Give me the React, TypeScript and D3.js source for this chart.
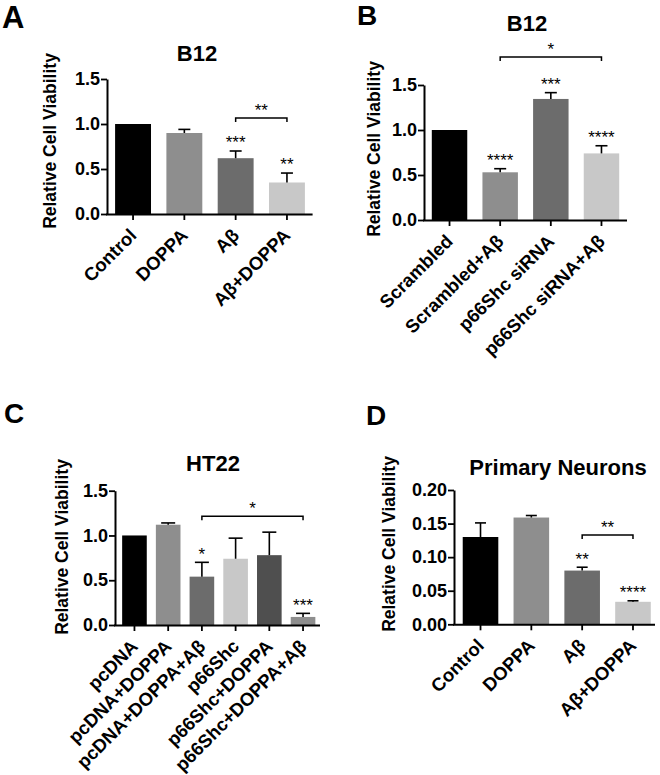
import React, { useEffect, useRef } from 'react';
import * as d3 from 'd3';

const FONT = '"Liberation Sans", Arial, Helvetica, sans-serif';

// panel A - B12
const aCategories = ['Control', 'DOPPA', 'Aβ', 'Aβ+DOPPA'];
const aMeans = [1.0, 0.9, 0.62, 0.35];
const aErrors = [0, 0.04, 0.08, 0.105];
const aStars = ['', '', '***', '**'];
const aTicks = [0, 0.5, 1.0, 1.5];
const aBracket = { from: 2, to: 3, value: 1.067, label: '**' };

// panel B - B12 siRNA
const bCategories = ['Scrambled', 'Scrambled+Aβ', 'p66Shc siRNA', 'p66Shc siRNA+Aβ'];
const bMeans = [1.0, 0.53, 1.345, 0.74];
const bErrors = [0, 0.04, 0.07, 0.085];
const bStars = ['', '****', '***', '****'];
const bTicks = [0, 0.5, 1.0, 1.5];
const bBracket = { from: 1, to: 3, value: 1.81, label: '*' };

// panel C - HT22
const cCategories = ['pcDNA', 'pcDNA+DOPPA', 'pcDNA+DOPPA+Aβ', 'p66Shc', 'p66Shc+DOPPA', 'p66Shc+DOPPA+Aβ'];
const cMeans = [1.0, 1.12, 0.54, 0.74, 0.78, 0.09];
const cErrors = [0, 0.02, 0.16, 0.23, 0.257, 0.04];
const cStars = ['', '', '*', '', '', '***'];
const cTicks = [0, 0.5, 1.0, 1.5];
const cBracket = { from: 2, to: 5, value: 1.214, label: '*' };

// panel D - primary neurons
const dCategories = ['Control', 'DOPPA', 'Aβ', 'Aβ+DOPPA'];
const dMeans = [0.13, 0.159, 0.08, 0.0335];
const dErrors = [0.021, 0.003, 0.005, 0.0015];
const dStars = ['', '', '**', '****'];
const dTicks = [0, 0.05, 0.1, 0.15, 0.2];
const dBracket = { from: 2, to: 3, value: 0.133, label: '**' };

const grays4 = ['#000000', '#8e8e8e', '#6c6c6c', '#c8c8c8'];
const grays6 = ['#000000', '#8e8e8e', '#6c6c6c', '#c8c8c8', '#4f4f4f', '#8e8e8e'];

const panels = [
  {
    letter: 'A', letterX: 2, letterY: 28, letterSize: 31,
    title: 'B12', titleX: 197, titleY: 61,
    categories: aCategories, means: aMeans, errors: aErrors, stars: aStars, ticks: aTicks, bracket: aBracket,
    fmt: '.1f', yMax: 1.5, left: 107, bandStart: 107.4, bandEnd: 312.6, axisEnd: 312.6,
    y0: 214, yTop: 79, padding: 0.3, colors: grays4, labelX: 56, labelY: 141, capW: 12,
  },
  {
    letter: 'B', letterX: 357, letterY: 25, letterSize: 28,
    title: 'B12', titleX: 527, titleY: 31,
    categories: bCategories, means: bMeans, errors: bErrors, stars: bStars, ticks: bTicks, bracket: bBracket,
    fmt: '.1f', yMax: 1.5, left: 424, bandStart: 424.2, bandEnd: 626.8, axisEnd: 627,
    y0: 220, yTop: 85, padding: 0.3, colors: grays4, labelX: 380, labelY: 149, capW: 12,
  },
  {
    letter: 'C', letterX: 4, letterY: 423, letterSize: 28,
    title: 'HT22', titleX: 213, titleY: 471,
    categories: cCategories, means: cMeans, errors: cErrors, stars: cStars, ticks: cTicks, bracket: cBracket,
    fmt: '.1f', yMax: 1.5, left: 115, bandStart: 117.6, bandEnd: 319.9, axisEnd: 320,
    y0: 625, yTop: 490.7, padding: 0.27, colors: grays6, labelX: 68, labelY: 547, capW: 14,
  },
  {
    letter: 'D', letterX: 366, letterY: 425, letterSize: 28,
    title: 'Primary Neurons', titleX: 558, titleY: 475,
    categories: dCategories, means: dMeans, errors: dErrors, stars: dStars, ticks: dTicks, bracket: dBracket,
    fmt: '.2f', yMax: 0.2, left: 454, bandStart: 455.1, bandEnd: 658.4, axisEnd: 655,
    y0: 624.3, yTop: 490, padding: 0.3, colors: grays4, labelX: 395, labelY: 544, capW: 11,
  },
];

function drawPanel(svg: any, p: any) {
  const y = d3.scaleLinear().domain([0, p.yMax]).range([p.y0, p.yTop]);
  const x = d3.scaleBand()
    .domain(p.categories)
    .range([p.bandStart, p.bandEnd])
    .paddingInner(p.padding)
    .paddingOuter(p.padding / 2);
  const cx = (i: number) => (x(p.categories[i]) as number) + x.bandwidth() / 2;

  const g = svg.append('g');

  g.append('text')
    .attr('x', p.letterX).attr('y', p.letterY)
    .attr('font-family', FONT).attr('font-weight', 'bold').attr('font-size', p.letterSize)
    .text(p.letter);

  g.append('text')
    .attr('x', p.titleX).attr('y', p.titleY)
    .attr('text-anchor', 'middle')
    .attr('font-family', FONT).attr('font-weight', 'bold').attr('font-size', 22)
    .text(p.title);

  g.append('text')
    .attr('transform', `translate(${p.labelX},${p.labelY}) rotate(-90)`)
    .attr('text-anchor', 'middle')
    .attr('font-family', FONT).attr('font-weight', 'bold').attr('font-size', 17.5)
    .text('Relative Cell Viability');

  // bars
  g.selectAll('rect.bar')
    .data(p.means)
    .enter().append('rect')
    .attr('class', 'bar')
    .attr('x', (d: number, i: number) => x(p.categories[i]))
    .attr('y', (d: number) => y(d))
    .attr('width', x.bandwidth())
    .attr('height', (d: number) => y(0) - y(d))
    .attr('fill', (d: number, i: number) => p.colors[i]);

  // error bars (upper only)
  p.means.forEach((m: number, i: number) => {
    if (!p.errors[i]) return;
    const top = y(m + p.errors[i]);
    g.append('line')
      .attr('x1', cx(i)).attr('x2', cx(i))
      .attr('y1', y(m)).attr('y2', top)
      .attr('stroke', '#000').attr('stroke-width', 1.6);
    g.append('line')
      .attr('x1', cx(i) - p.capW / 2).attr('x2', cx(i) + p.capW / 2)
      .attr('y1', top).attr('y2', top)
      .attr('stroke', '#000').attr('stroke-width', 1.6);
  });

  // significance stars
  p.stars.forEach((s: string, i: number) => {
    if (!s) return;
    const top = y(p.means[i] + p.errors[i]);
    g.append('text')
      .attr('x', cx(i)).attr('y', top - 2.6)
      .attr('text-anchor', 'middle')
      .attr('font-family', FONT).attr('font-size', 17)
      .text(s);
  });

  // bracket
  const b = p.bracket;
  const by = y(b.value);
  g.append('path')
    .attr('d', `M${cx(b.from)},${by + 4}V${by}H${cx(b.to)}V${by + 4}`)
    .attr('fill', 'none').attr('stroke', '#000').attr('stroke-width', 1.5);
  g.append('text')
    .attr('x', (cx(b.from) + cx(b.to)) / 2).attr('y', by - 2)
    .attr('text-anchor', 'middle')
    .attr('font-family', FONT).attr('font-size', 17)
    .text(b.label);

  // y axis
  const yAxis = d3.axisLeft(y)
    .tickValues(p.ticks)
    .tickSize(6)
    .tickSizeOuter(0)
    .tickPadding(1)
    .tickFormat(d3.format(p.fmt) as any);
  const ya = g.append('g').attr('transform', `translate(${p.left},0)`).call(yAxis);
  ya.attr('font-family', FONT).attr('font-weight', 'bold').attr('font-size', 18);
  ya.select('.domain').attr('stroke-width', 2);
  ya.selectAll('.tick line').attr('stroke-width', 1.8);

  // x axis
  const xAxis = d3.axisBottom(x).tickSize(6).tickSizeOuter(0).tickFormat(() => '');
  const xa = g.append('g').attr('transform', `translate(0,${p.y0})`).call(xAxis);
  xa.select('.domain').remove();
  xa.selectAll('.tick line').attr('stroke-width', 1.8);
  g.append('line')
    .attr('x1', p.left - 1).attr('x2', p.axisEnd)
    .attr('y1', p.y0 + 0.5).attr('y2', p.y0 + 0.5)
    .attr('stroke', '#000').attr('stroke-width', 2);

  g.selectAll('text.xlabel')
    .data(p.categories)
    .enter().append('text')
    .attr('class', 'xlabel')
    .attr('transform', (d: string, i: number) => `translate(${cx(i)},${p.y0 + 18}) rotate(-45)`)
    .attr('text-anchor', 'end')
    .attr('dy', '0.35em')
    .attr('font-family', FONT).attr('font-weight', 'bold').attr('font-size', 18.5)
    .text((d: string) => d);
}

export default function App() {
  const ref = useRef<SVGSVGElement>(null);

  useEffect(() => {
    const svg = d3.select(ref.current);
    svg.selectAll('*').remove();
    panels.forEach(p => drawPanel(svg, p));
  }, []);

  return (
    <svg
      ref={ref}
      width={660}
      height={775}
      style={{ position: 'absolute', left: 0, top: 0, background: '#fff' }}
    />
  );
}
